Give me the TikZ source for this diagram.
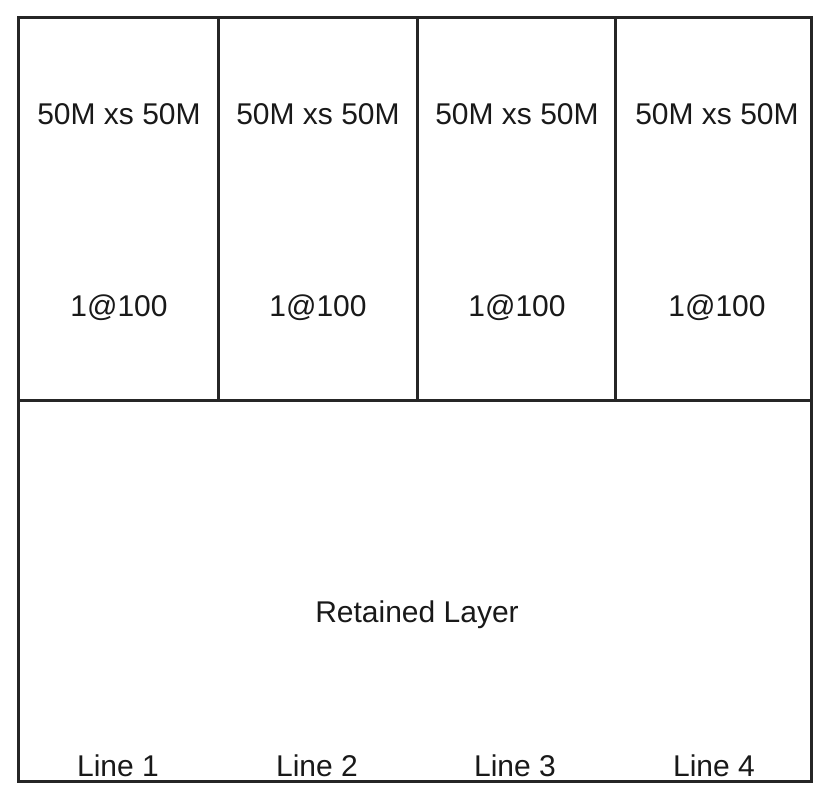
\documentclass[tikz,border=0pt]{standalone}
\usepackage{fontspec}
\setmainfont{Liberation Sans}
\begin{document}
\begin{tikzpicture}[x=1pt,y=-1pt,
  frame/.style={line width=3pt,draw=black!85},
  lbl/.style={font=\fontsize{30}{34}\selectfont,text=black!90,inner sep=0pt,anchor=base}]
\useasboundingbox[fill=white] (0,0) rectangle (814,785);
% outer frame
\draw[frame] (18,17) rectangle (811,781);
% horizontal divider
\draw[frame] (18,400) -- (811,400);
% vertical dividers in the top row
\foreach \x in {218,417,615} \draw[frame] (\x,17) -- (\x,400);
% texts
\foreach \c/\x in {1/119,2/318,3/517,4/717} {
  \node[lbl] (top\c) at (\x,124) {50M xs 50M};
  \node[lbl] (mid\c) at (\x,316) {1@100};
}
\foreach \c/\x in {1/118,2/317,3/515,4/714}
  \node[lbl] (line\c) at (\x,776) {Line \c};
\node[lbl] (ret) at (417,622) {Retained Layer};
\end{tikzpicture}
\end{document}
